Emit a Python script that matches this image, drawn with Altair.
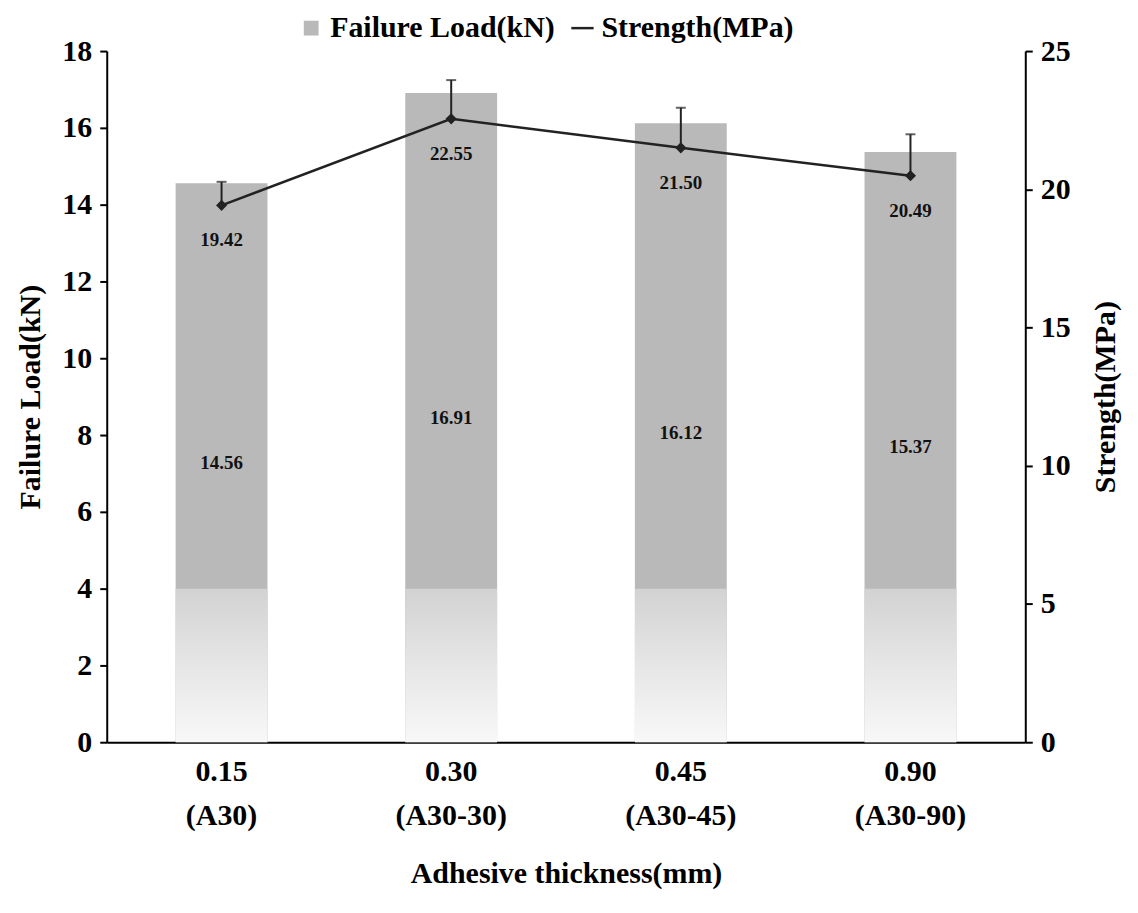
import altair as alt
import pandas as pd

thickness = ["0.15", "0.30", "0.45", "0.90"]
specimens = ["(A30)", "(A30-30)", "(A30-45)", "(A30-90)"]
failure_load = [14.56, 16.91, 16.12, 15.37]
strength = [19.42, 22.55, 21.50, 20.49]
strength_err = [0.85, 1.40, 1.45, 1.50]

FONT = "Liberation Serif"

df = pd.DataFrame({
    "cat": [f"{t}|{s}" for t, s in zip(thickness, specimens)],
    "load": failure_load,
    "strength": strength,
    "err": strength_err,
    "bar_series": "Failure Load(kN)",
    "line_series": "Strength(MPa)",
})

base = alt.Chart(df).transform_calculate(
    load_mid="datum.load / 2",
    upper="datum.strength + datum.err",
    fade_top="4",
    fade_bottom="0",
    load_label="format(datum.load, '.2f')",
    strength_label="format(datum.strength, '.2f')",
)

x = alt.X(
    "cat:N", sort=None,
    scale=alt.Scale(paddingInner=0.6, paddingOuter=0.3),
    axis=alt.Axis(title="Adhesive thickness(mm)", labelExpr="split(datum.label, '|')",
                  labelAngle=0, ticks=False, labelPadding=14, titlePadding=28,
                  labelLineHeight=45),
)

yL_scale = alt.Scale(domain=[0, 18], nice=False)
yR_scale = alt.Scale(domain=[0, 25], nice=False)

legend_common = dict(title=None, orient="none", labelFontSize=30, labelFont=FONT,
                     labelFontWeight="bold", labelColor="black", labelLimit=0)

bar_base = base.mark_bar().encode(
    x=x,
    y=alt.Y("load:Q", scale=yL_scale,
            axis=alt.Axis(title="Failure Load(kN)", values=list(range(0, 19, 2)),
                          orient="left", grid=False, labelPadding=8, titlePadding=16)),
    fill=alt.Fill("bar_series:N", scale=alt.Scale(range=["#b9b9b9"]),
                  legend=alt.Legend(symbolType="square", symbolSize=220,
                                    legendX=190, legendY=-38, **legend_common)),
)

bar_fade = base.mark_bar(
    fill=alt.Gradient(
        gradient="linear", x1=0, x2=0, y1=0, y2=1,
        stops=[
            alt.GradientStop(offset=0, color="#d2d2d2"),
            alt.GradientStop(offset=0.5, color="#e6e6e6"),
            alt.GradientStop(offset=1, color="#f8f8f8"),
        ],
    )
).encode(x=x, y=alt.Y("fade_top:Q", scale=yL_scale), y2="fade_bottom:Q")

load_text = base.mark_text(font=FONT, fontWeight="bold", fontSize=19, color="#111").encode(
    x=x, y=alt.Y("load_mid:Q", scale=yL_scale), text="load_label:N"
)

left = alt.layer(bar_base, bar_fade, load_text)

yR = alt.Y("strength:Q", scale=yR_scale,
           axis=alt.Axis(title="Strength(MPa)", values=list(range(0, 26, 5)),
                         orient="right", grid=False, labelPadding=8, titlePadding=50,
                         titleAngle=270))

line = base.mark_line(strokeWidth=2.5, point=alt.OverlayMarkDef(filled=True, size=70, shape="diamond", color="#222")).encode(
    x=x, y=yR,
    stroke=alt.Stroke("line_series:N", scale=alt.Scale(range=["#222222"]),
                      legend=alt.Legend(symbolType="stroke", symbolStrokeWidth=2.5, symbolSize=500,
                                        legendX=462, legendY=-38, **legend_common)),
)

err_rule = base.mark_rule(strokeWidth=2, color="#222").encode(
    x=x, y=alt.Y("strength:Q", scale=yR_scale), y2="upper:Q"
)
err_cap = base.mark_tick(size=10, thickness=2, color="#222").encode(
    x=x, y=alt.Y("upper:Q", scale=yR_scale)
)
str_text = base.mark_text(font=FONT, fontWeight="bold", fontSize=19, color="#111", dy=35).encode(
    x=x, y=alt.Y("strength:Q", scale=yR_scale), text="strength_label:N"
)

right = alt.layer(err_rule, err_cap, line, str_text)

chart = alt.layer(left, right).resolve_scale(y="independent", fill="independent", stroke="independent").properties(
    width=921, height=693,
    autosize="none",
    padding={"left": 99, "top": 42, "right": 105, "bottom": 150},
).configure_view(stroke=None).configure_axis(
    labelFont=FONT, labelFontWeight="bold", labelFontSize=30, labelColor="black",
    titleFont=FONT, titleFontWeight="bold", titleFontSize=30, titleColor="black",
    domainColor="black", domainWidth=2, tickColor="black", tickWidth=2, tickSize=7,
)

chart.save("out.html", embed_options={"renderer": "svg", "actions": False})
